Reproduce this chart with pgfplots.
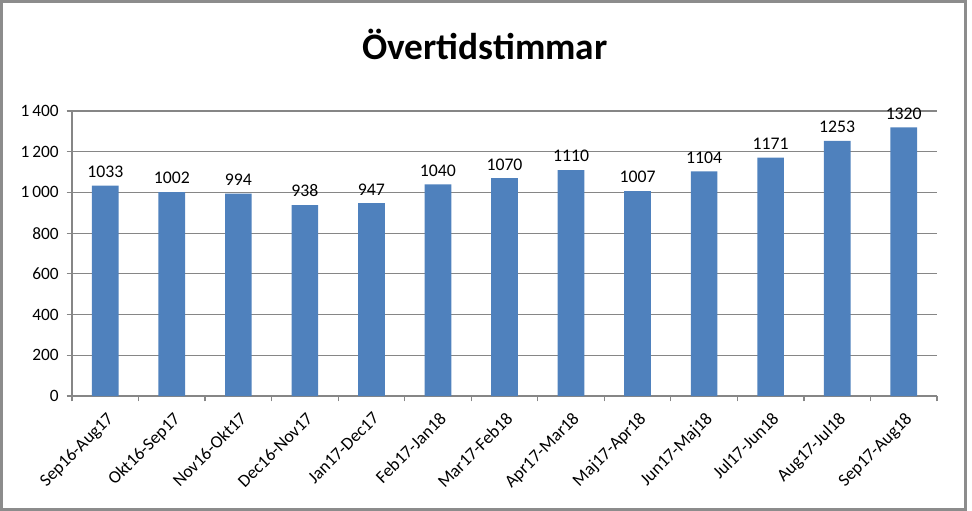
\documentclass[border=0pt]{standalone}
\usepackage{fontspec}
\setmainfont{Carlito}
\usepackage{pgfplots}
\pgfplotsset{compat=1.18}
\definecolor{barblue}{HTML}{4F81BD}
\definecolor{gridgray}{HTML}{868686}
\definecolor{framegray}{HTML}{8C8C8C}
\begin{document}
\begin{tikzpicture}
\useasboundingbox (-54pt,-86.25pt) rectangle (675pt,297pt);
\draw[framegray, line width=1.9pt] (-52.875pt,-85.125pt) rectangle (670.125pt,295.875pt);
\begin{axis}[
  at={(0,0)}, anchor=south west,
  scale only axis,
  width=648.75pt, height=213.75pt,
  xmin=-0.5, xmax=12.5,
  ymin=0, ymax=1400,
  ytick={0,200,...,1400},
  xtick={0,...,12},
  xticklabels={Sep16-Aug17,Okt16-Sep17,Nov16-Okt17,Dec16-Nov17,Jan17-Dec17,Feb17-Jan18,Mar17-Feb18,Apr17-Mar18,Maj17-Apr18,Jun17-Maj18,Jul17-Jun18,Aug17-Jul18,Sep17-Aug18},
  minor xtick={-0.5,0.5,...,12.5},
  major x tick style={draw=none},
  minor x tick style={draw=gridgray, line width=0.9pt},
  y tick style={draw=gridgray, line width=0.9pt},
  tick align=outside,
  major tick length=4pt,
  minor tick length=4pt,
  axis lines*=left,
  axis line style={draw=gridgray, line width=0.9pt},
  ymajorgrids,
  grid style={draw=gridgray, line width=0.9pt},
  /pgf/number format/assume math mode=true,
  /pgf/number format/1000 sep={\,},
  yticklabel style={font=\fontsize{13}{15}\selectfont, text=black, xshift=-2.5pt},
  xticklabel style={font=\fontsize{13.3}{15}\selectfont, text=black, rotate=45, anchor=north east, xshift=-1.5pt, yshift=-2pt},
  ybar,
  bar width=20pt,
  bar shift=0pt,
  nodes near coords,
  every node near coord/.append style={font=\fontsize{13.3}{15}\selectfont, text=black, anchor=south, yshift=2.5pt},
  point meta=explicit symbolic,
  clip=false,
]
\addplot[fill=barblue, draw=none] coordinates {
  (0,1033) [1033]
  (1,1002) [1002]
  (2,994) [994]
  (3,938) [938]
  (4,947) [947]
  (5,1040) [1040]
  (6,1070) [1070]
  (7,1110) [1110]
  (8,1007) [1007]
  (9,1104) [1104]
  (10,1171) [1171]
  (11,1253) [1253]
  (12,1320) [1320]
};
\end{axis}
\node[font=\bfseries\fontsize{28}{32}\selectfont] at (309.75pt,264pt) {Övertidstimmar};
\end{tikzpicture}
\end{document}
